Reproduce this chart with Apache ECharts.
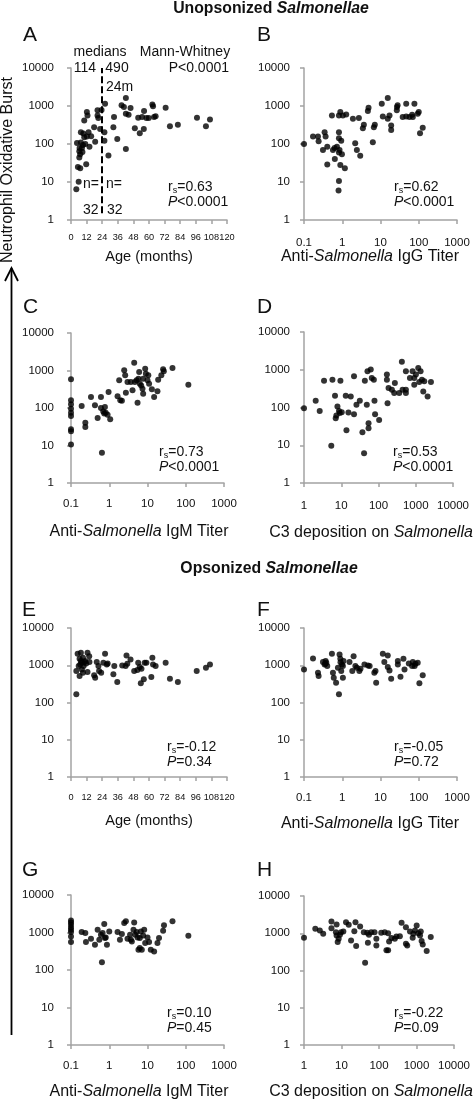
<!DOCTYPE html>
<html><head><meta charset="utf-8">
<script src="https://cdn.jsdelivr.net/npm/echarts@6/dist/echarts.min.js"></script>
<style>html,body{margin:0;padding:0;background:#fff}#c{width:476px;height:1102px}</style>
</head><body><div id="c"></div><script>
// ---------- DATA ----------
// Unopsonized Salmonellae: [x, neutrophil oxidative burst]
const A_ageUnops = [[4.1,6.4],[5.9,10.2],[4.6,107],[7.6,110],[6.6,78],[6.4,64],[7.1,54],[6.4,44],[8.4,78],[9.2,94],[5.3,25],[7.1,23],[11.7,29.5],[7.6,204],[10.2,415],[12.2,690],[12.7,565],[13.5,204],[12.2,157],[10.2,150],[14.2,85],[17.8,276],[18.6,115],[20.4,565],[20.4,770],[22.4,250],[23.5,780],[8.8,62],[11,100],[15.5,160],[9.5,190],[21,480],
 [25.7,122],[26.2,1150],[25.7,204],[28.8,50],[32.6,276],[33.1,510],[35.6,136],[38.9,1040],[40.7,940],[42.2,1630],[42.2,630],[42.2,74],[44.3,590],[45.8,885],[49.1,260],[51.7,490],[52.9,192],[54.7,510],[56,250],[56.2,740],[58,480],[59.8,480],[62.6,1100],[63.1,980],[63.9,510],[65.1,540],[72.8,900],[76.1,293],[82.2,320],[96.9,490],[103.8,293],[106.9,443]];
const B_iggUnops = [[0.1,100],[0.172,157],[0.232,157],[0.241,118],[0.346,204],[0.367,157],[0.313,69],[0.406,85],[0.406,29],[0.537,565],[0.571,69],[0.63,78],[0.64,40],[0.726,85],[0.82,565],[0.82,204],[0.82,141],[0.82,60],[0.82,10.6],[0.8,6],[0.89,690],[1.04,565],[0.89,28],[0.94,122],[0.85,69],[0.98,54],[1.17,23],[1.27,600],[1.9,460],[2.18,104],[2.41,69],[2.72,480],[2.95,49],[3.46,260],[3.67,320],[4.67,740],[4.87,900],[6.3,111],[6.7,277],[7.1,320],[10.8,1150],[11.5,530],[15.5,1630],[15.5,460],[17.2,565],[19,307],[19,235],[26.7,770],[27,940],[28,1050],[38,510],[47,1150],[57,510],[67,590],[77,1150],[70,510],[94,630],[100,690],[108,192],[127,266],[47,530]];
const C_igmUnops = [[0.1,580],[0.1,160],[0.1,125],[0.1,96],[0.1,75],[0.1,61],[0.1,27],[0.1,24],[0.1,10.7],[0.19,113],[0.237,40.5],[0.237,31],[0.333,196],[0.423,118],[0.497,54],[0.607,196],[0.607,100],[0.644,6.4],[0.697,81],[0.77,106],[0.74,71],[0.81,75],[0.905,66],[0.96,267],[1.06,50],[1.65,205],[1.82,547],[1.94,160],[2.14,155],[2.46,1010],[2.61,743],[2.72,257],[3.0,494],[3.67,494],[4.06,296],[4.49,1620],[4.68,494],[5.17,547],[5.49,139],[5.8,605],[6.06,912],[6.3,446],[6.84,400],[7.4,328],[7.7,241],[7.7,605],[8.7,1120],[9.06,824],[10,547],[10.5,743],[11,446],[13,315],[14.9,196],[18.2,278],[19,570],[23,743],[25.6,1075],[26.7,950],[45,1170],[117,419]];
const D_c3Unops = [[1,96],[2.06,151],[2.64,81],[3.45,514],[5.8,547],[5.4,9.7],[6.8,205],[7.1,52],[7.4,61],[7.9,106],[8.7,81],[9.1,71],[9.5,514],[10.3,75],[13.2,205],[13.8,25],[15.6,74],[18,196],[22,670],[22,66],[25.6,118],[31.5,151],[37,22],[41,6.1],[43,514],[48.5,118],[50.6,912],[54,38],[54,28],[62,1010],[66,605],[75,547],[78,151],[81,66],[104,47],[168,547],[175,130],[168,743],[186,328],[229,296],[264,241],[275,446],[360,241],[443,296],[544,296],[544,241],[424,1620],[544,912],[697,605],[822,912],[912,605],[912,402],[1010,743],[1167,1120],[1242,474],[1349,912],[1466,547],[1592,267],[1694,494],[2081,196],[2559,474]];
// Opsonized Salmonellae
const E_ageOps = [[4.1,167],[4.1,699],[5.1,2027],[6.6,1490],[6.6,514],[7.1,1052],[7.6,1291],[8.4,1166],[9.2,1585],[9.7,950],[10.4,1215],[7.6,2150],[8.4,774],[10.9,1291],[12.7,2150],[12.7,657],[14,1756],[14.2,1215],[17.8,535],[18.6,464],[19.8,1215],[21.1,950],[21.6,699],[23.2,631],[5.9,950],[9.2,631],[11.7,1120],
 [24.9,1166],[26.2,2027],[27.5,1052],[28.2,1120],[32.6,570],[33.3,950],[35.6,356],[39.4,990],[42,950],[42.7,1828],[43.3,1096],[45.8,1431],[48.6,699],[51.1,743],[51.7,1166],[52.9,893],[54.2,807],[53.7,328],[56,419],[56.7,1166],[58,1166],[61.8,483],[62.6,1585],[63.1,1052],[65.1,950],[72.8,1166],[76.1,437],[82.2,356],[96.7,699],[103.8,858],[106.9,1052]];
const F_iggOps = [[0.1,774],[0.172,1521],[0.232,631],[0.241,514],[0.313,1215],[0.346,1052],[0.367,1291],[0.383,1166],[0.406,950],[0.537,2027],[0.571,631],[0.6,464],[0.69,341],[0.77,858],[0.82,167],[0.85,1945],[0.89,1490],[0.94,699],[0.98,1052],[1.04,950],[1.08,1291],[1.04,464],[1.55,1215],[1.83,699],[1.98,1756],[2.2,950],[2.41,858],[2.8,699],[3.0,807],[3.8,1052],[4.7,990],[5.2,950],[6.9,631],[7.4,699],[7.7,341],[11.5,2027],[12.6,1215],[15.5,1828],[15.5,893],[17.2,728],[19,437],[28.4,1291],[28.4,1052],[33.3,494],[39.8,1490],[42.4,774],[55,1120],[67,950],[82,1096],[94,1166],[104,328],[127,535],[70,1215],[78,950],[0.36,1100],[0.9,1200]];
const G_igmOps = [[0.1,2104],[0.1,1862],[0.1,1612],[0.1,1368],[0.1,1186],[0.1,1027],[0.1,787],[0.1,555],[0.19,1027],[0.237,966],[0.246,555],[0.333,681],[0.423,471],[0.497,1186],[0.55,641],[0.607,871],[0.644,162],[0.67,966],[0.74,1680],[0.77,710],[0.81,740],[0.87,471],[1.0,1070],[1.65,1027],[1.9,641],[2.14,908],[2.46,1786],[2.72,1981],[3.0,681],[3.5,871],[3.67,641],[3.9,578],[4.3,1186],[4.49,1862],[4.8,871],[5.2,1027],[5.5,740],[5.8,347],[6.3,710],[6.3,384],[7.1,347],[6.7,1070],[7.7,837],[8.2,1186],[8.7,522],[10,740],[11,555],[12.2,347],[14.9,313],[18.2,522],[20,710],[25.6,1115],[27,1549],[45,1981],[117,820]];
const H_c3Ops = [[1,755],[2.0,1313],[2.64,1186],[3.25,966],[5.4,2063],[5.4,1368],[7.1,1070],[7.4,1714],[7.4,871],[7.9,578],[8.4,710],[9.1,908],[9.7,1070],[11.2,1115],[13.2,1981],[15.6,1680],[18,641],[22,1138],[23.6,1981],[24.6,452],[31.4,1517],[39.4,1070],[42.6,162],[48.5,1027],[50.6,555],[54,908],[62,1070],[76,1070],[85,710],[85,471],[115,1027],[142,1070],[158,347],[175,347],[175,1000],[186,603],[215,740],[264,710],[292,820],[360,837],[400,1900],[522,1455],[522,522],[566,471],[670,1115],[790,755],[822,966],[912,1186],[1010,1612],[1120,1000],[1242,871],[1300,1115],[1370,615],[1466,500],[1870,333],[2400,787]];

const ageTicks = [0,12,24,36,48,60,72,84,96,108,120];
const burstTicks = [1,10,100,1000,10000];
const stats = { A:['=0.63','<0.0001'], B:['=0.62','<0.0001'], C:['=0.73','<0.0001'], D:['=0.53','<0.0001'],
                E:['=-0.12','=0.34'], F:['=-0.05','=0.72'], G:['=0.10','=0.45'], H:['=-0.22','=0.09'] };
const medians = { below:'114', above:'490', nBelow:'32', nAbove:'32', cut:24 };

// ---------- LAYOUT ----------
const FONT = '"Liberation Sans", Arial, Helvetica, sans-serif';
const AX = '#a3a3a3', TXT = '#111';
const panels = [
 {id:'A', pts:A_ageUnops, log:false, xMin:0, xMax:120, g:[71,68,156,152], xm:13, xf:9.2, ym:17, title:['{a|Age (months)}',149,257], stat:[168,187], letter:[23,35.5]},
 {id:'B', pts:B_iggUnops, log:true, xMin:0.1, xMax:1000, g:[304,68,153,152], xm:17, xf:11.5, ym:14, title:['{n|Anti-}{i|Salmonella}{n| IgG Titer}',370,257], stat:[394,187], letter:[257,35.5]},
 {id:'C', pts:C_igmUnops, log:true, xMin:0.1, xMax:1000, g:[71,333,153,150], xm:15, xf:11.5, ym:17, title:['{n|Anti-}{i|Salmonella}{n| IgM Titer}',139,532], stat:[159,452], letter:[23,307.5]},
 {id:'D', pts:D_c3Unops, log:true, xMin:1, xMax:10000, g:[304,332,149,151], xm:17, xf:11.5, ym:14, title:['{n|C3 deposition on }{i|Salmonella}',371,533], stat:[393,452], letter:[257,307.5]},
 {id:'E', pts:E_ageOps, log:false, xMin:0, xMax:120, g:[71,628,156,149], xm:16, xf:9.2, ym:17, title:['{a|Age (months)}',149,821], stat:[167,747], letter:[22,610]},
 {id:'F', pts:F_iggOps, log:true, xMin:0.1, xMax:1000, g:[304,628,153,149], xm:15, xf:11.5, ym:14, title:['{n|Anti-}{i|Salmonella}{n| IgG Titer}',370,824], stat:[394,747], letter:[257,610]},
 {id:'G', pts:G_igmOps, log:true, xMin:0.1, xMax:1000, g:[71,895,153,150], xm:15, xf:11.5, ym:17, title:['{n|Anti-}{i|Salmonella}{n| IgM Titer}',139,1092], stat:[167,1013], letter:[22,870]},
 {id:'H', pts:H_c3Ops, log:true, xMin:1, xMax:10000, g:[304,896,150,149], xm:15, xf:11.5, ym:14, title:['{n|C3 deposition on }{i|Salmonella}',371,1092], stat:[394,1013], letter:[257,870]}
];

const fmt = v => { const r = +(+v).toPrecision(6); return String(r); };
const grids = [], xAxes = [], yAxes = [], series = [], graphics = [];
const richBase = { n:{fontSize:16, fontFamily:FONT, fill:TXT, color:TXT}, i:{fontSize:16, fontFamily:FONT, fontStyle:'italic', fill:TXT, color:TXT}, a:{fontSize:14.6, fontFamily:FONT, fill:TXT, color:TXT} };

function txt(x, y, text, opt) {
  opt = opt || {};
  graphics.push({ type:'text', x, y, silent:true, rotation: opt.rotation || 0,
    style: Object.assign({ text, fontSize: opt.size || 14, fontFamily: FONT, fill: TXT,
      fontWeight: opt.weight || 'normal', fontStyle: opt.style || 'normal',
      textAlign: opt.align || 'left', textVerticalAlign: 'middle', align: opt.align || 'left', verticalAlign:'middle' }, opt.rich ? { rich: opt.rich } : {}) });
}

panels.forEach((p, i) => {
  grids.push({ left:p.g[0], top:p.g[1], width:p.g[2], height:p.g[3], outerBoundsMode:'none', containLabel:false });
  const axisLine = { show:true, onZero:false, lineStyle:{ color:AX, width:1.5 } };
  const axisTick = { show:true, length:4, lineStyle:{ color:AX, width:1.5 } };
  const xa = { gridIndex:i, min:p.xMin, max:p.xMax, axisLine, axisTick, splitLine:{show:false},
    axisLabel:{ fontSize:p.xf, fontFamily:FONT, color:TXT, margin:p.xm, formatter:fmt, hideOverlap:false, showMinLabel:true, showMaxLabel:true } };
  if (p.log) { xa.type = 'log'; xa.logBase = 10; }
  else { xa.type = 'value'; xa.interval = ageTicks[1] - ageTicks[0]; }
  xAxes.push(xa);
  yAxes.push({ gridIndex:i, type:'log', logBase:10, min:burstTicks[0], max:burstTicks[burstTicks.length-1],
    axisLine, axisTick, splitLine:{show:false},
    axisLabel:{ fontSize:11.5, fontFamily:FONT, color:TXT, margin:p.ym, formatter:fmt, showMinLabel:true, showMaxLabel:true } });
  const s = { type:'scatter', xAxisIndex:i, yAxisIndex:i, data:p.pts, symbolSize:6,
    itemStyle:{ color:'#000' }, silent:true, animation:false };
  if (p.id === 'A') {
    s.markLine = { silent:true, symbol:['none','none'], label:{show:false}, animation:false,
      lineStyle:{ color:'#000', width:2, type:[7,3] },
      data:[[{coord:[medians.cut, 1.5]}, {coord:[medians.cut, 10000]}]] };
  }
  series.push(s);
  // panel letter
  txt(p.letter[0], p.letter[1], p.id, { size:21 });
  // axis title
  txt(p.title[1], p.title[2], p.title[0], { align:'center', rich:richBase, size:16 });
  // statistics
  const st = stats[p.id], sx = p.stat[0], sy = p.stat[1];
  txt(sx, sy, 'r', { size:14 });
  txt(sx + 4.7, sy + 4, 's', { size:9 });
  txt(sx + 9.2, sy, st[0], { size:14 });
  txt(sx, sy + 15.5, '{i|P}{n|' + st[1] + '}', { size:14, rich:{ n:{fontSize:14, fontFamily:FONT, fill:TXT, color:TXT}, i:{fontSize:14, fontFamily:FONT, fontStyle:'italic', fill:TXT, color:TXT} } });
});

// panel A median annotations
txt(100, 52, 'medians', { size:14, align:'center' });
txt(185, 52, 'Mann-Whitney', { size:14, align:'center' });
txt(85, 68, medians.below, { size:14, align:'center' });
txt(117, 68, medians.above, { size:14, align:'center' });
txt(229, 68, 'P<0.0001', { size:14, align:'right' });
txt(106, 87, medians.cut + 'm', { size:14 });
txt(83, 184, 'n=', { size:14 });
txt(106, 184, 'n=', { size:14 });
txt(83, 210, medians.nBelow, { size:14 });
txt(107, 210, medians.nAbove, { size:14 });

// section titles
const richTitle = { b:{fontSize:15.8, fontWeight:'bold', fontFamily:FONT, fill:TXT, color:TXT}, bi:{fontSize:15.8, fontWeight:'bold', fontStyle:'italic', fontFamily:FONT, fill:TXT, color:TXT} };
txt(271, 9, '{b|Unopsonized }{bi|Salmonellae}', { align:'center', rich:richTitle, size:15.8 });
txt(269, 569, '{b|Opsonized }{bi|Salmonellae}', { align:'center', rich:richTitle, size:15.8 });

// y-axis label and arrow
txt(7.5, 170, 'Neutrophil Oxidative Burst', { size:16, align:'center', rotation:Math.PI/2 });
graphics.push({ type:'line', silent:true, shape:{ x1:11.5, y1:1035, x2:11.5, y2:268 }, style:{ stroke:'#000', lineWidth:1.8 } });
graphics.push({ type:'polyline', silent:true, shape:{ points:[[5,281],[11.5,268],[18,281]] }, style:{ stroke:'#000', lineWidth:1.8, fill:null } });

const chart = echarts.init(document.getElementById('c'), null, { renderer:'canvas' });
chart.setOption({ animation:false, backgroundColor:'#fff', grid:grids, xAxis:xAxes, yAxis:yAxes, series, graphic:graphics });
</script></body></html>
